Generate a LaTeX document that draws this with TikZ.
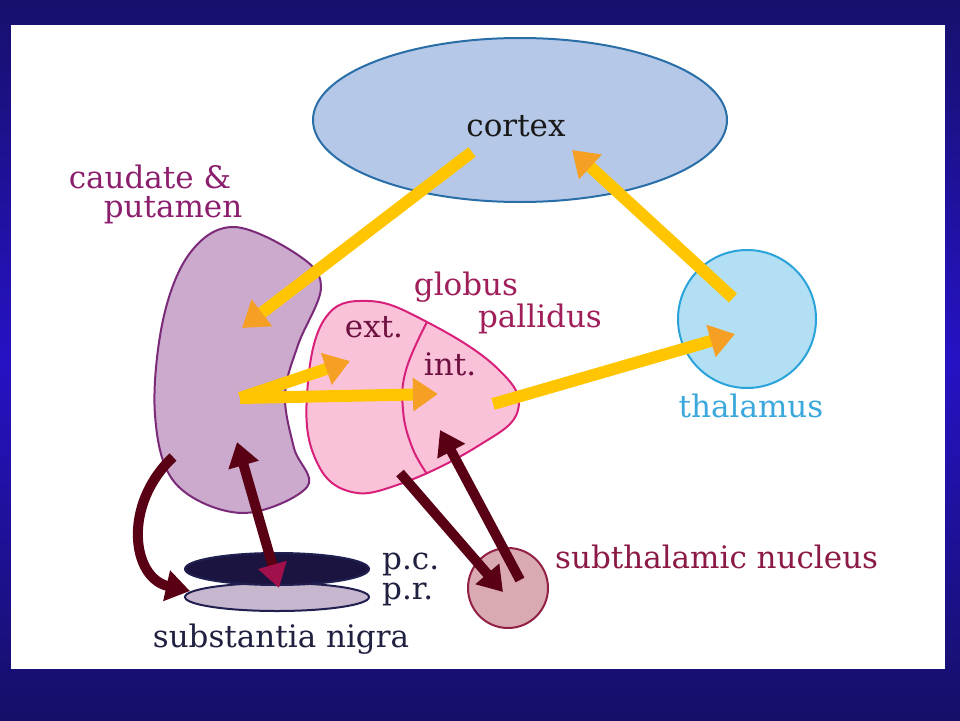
\documentclass[tikz,border=0pt]{standalone}
\usepackage{fontspec}
\setmainfont{DejaVu Serif}
\usetikzlibrary{arrows.meta,shapes.geometric}
\definecolor{bgtop}{HTML}{17106C}
\definecolor{bgmid}{HTML}{2612C4}
\definecolor{bgbot}{HTML}{160F68}
\definecolor{cortexfill}{HTML}{B6C8E8}
\definecolor{cortexline}{HTML}{2A6EA8}
\definecolor{caudfill}{HTML}{CBAACD}
\definecolor{caudline}{HTML}{7A2A78}
\definecolor{gpfill}{HTML}{F9C2D9}
\definecolor{gpline}{HTML}{D8207A}
\definecolor{thalfill}{HTML}{B2DFF3}
\definecolor{thalline}{HTML}{2AA2DA}
\definecolor{stnfill}{HTML}{D9AAB2}
\definecolor{stnline}{HTML}{922044}
\definecolor{yel}{HTML}{FFC500}
\definecolor{orh}{HTML}{F5A024}
\definecolor{darkarr}{HTML}{5A0014}
\definecolor{crimhead}{HTML}{A2104C}
\definecolor{pcfill}{HTML}{1C1440}
\definecolor{prfill}{HTML}{C6B6CE}
\definecolor{snline}{HTML}{202050}
\definecolor{caudtext}{HTML}{8C1E6E}
\definecolor{gptext}{HTML}{A01E5A}
\definecolor{inttext}{HTML}{6E1040}
\definecolor{thaltext}{HTML}{3AA8DC}
\definecolor{stntext}{HTML}{8C1A46}
\definecolor{sntext}{HTML}{202040}
\newcommand\lab{\fontsize{31}{34}\selectfont}
\tikzset{
  yarrow/.style={draw=yel, line width=12pt, -{Triangle[length=25pt,width=32pt,color=orh]}},
  darrow/.style={draw=darkarr, line width=10pt, -{Triangle[length=24pt,width=30pt,color=darkarr]}},
  lbl/.style={font=\lab, inner sep=0pt},
  region/.style={line width=2pt}
}
\begin{document}
\begin{tikzpicture}[x=1pt,y=-1pt]
\useasboundingbox (0,0) rectangle (960,720);
\shade[top color=bgtop, bottom color=bgbot, middle color=bgmid] (0,0) rectangle (960,720);
\fill[white] (11,25) rectangle (945,669);

% cortex
\node[ellipse, draw=cortexline, fill=cortexfill, region, minimum width=414pt, minimum height=164pt, inner sep=0pt] (cortex) at (520,120) {};
\node[lbl, text=black!90] (cortexlbl) at (516,126) {cortex};

% thalamus
\node[circle, draw=thalline, fill=thalfill, region, minimum size=138pt, inner sep=0pt] (thal) at (747,319) {};
\node[lbl, text=thaltext] (thallbl) at (751,406) {thalamus};

% caudate & putamen
\draw[caudline, fill=caudfill, region] plot[smooth cycle, tension=0.6] coordinates {
  (234,227) (298,255) (321,287) (298,345) (285,395) (294,448) (307,487)
  (242,513) (176,484) (155,415) (163,320) (190,253)};
\node[lbl, text=caudtext] (caudlbl1) at (150,177) {caudate \&};
\node[lbl, text=caudtext] (caudlbl2) at (173,210) {putamen};

% globus pallidus
\draw[gpline, fill=gpfill, region] plot[smooth cycle, tension=0.7] coordinates {
  (307,395) (324,320) (368,301) (427,322) (497,368) (518,410) (478,446)
  (400,484) (348,491) (315,458)};
\draw[gpline, region] plot[smooth, tension=0.7] coordinates {(427,322) (406,370) (403,410) (412,447) (427,474)};
\node[lbl, text=gptext] (gplbl1) at (466,287) {globus};
\node[lbl, text=gptext] (gplbl2) at (540,319) {pallidus};
\node[lbl, text=inttext] (extlbl) at (374,327) {ext.};
\node[lbl, text=inttext] (intlbl) at (450,364) {int.};

% subthalamic nucleus
\node[circle, draw=stnline, fill=stnfill, region, minimum size=80pt, inner sep=0pt] (stn) at (508,588) {};
\node[lbl, text=stntext, anchor=west] (stnlbl) at (555,557) {subthalamic nucleus};

% substantia nigra
\node[ellipse, draw=snline, fill=prfill, region, minimum width=184pt, minimum height=28pt, inner sep=0pt] (pr) at (277,597) {};
\node[ellipse, draw=snline, fill=pcfill, region, minimum width=184pt, minimum height=32pt, inner sep=0pt] (pc) at (277,569) {};
\node[lbl, text=sntext, anchor=west] (pclbl) at (382,564) {p.c.};
\node[lbl, text=sntext, anchor=west] (prlbl) at (382,594) {p.r.};
\node[lbl, text=sntext] (snlbl) at (281,639) {substantia nigra};

% connector end points
\coordinate (cxout) at (472,152);
\coordinate (cdin) at (242,328);
\coordinate (thout) at (733,298);
\coordinate (cxin) at (572,150);
\coordinate (cdout) at (240,398);
\coordinate (extin) at (350,361);
\coordinate (intin) at (438,394);
\coordinate (gpout) at (493,404);
\coordinate (thin) at (735,334);
\coordinate (cdout2) at (173,457);
\coordinate (snin) at (190,591);
\coordinate (cdin2) at (237,442);
\coordinate (pcin) at (279,588);
\coordinate (gpout2) at (400,473);
\coordinate (stnin) at (503,592);
\coordinate (stnout) at (520,580);
\coordinate (intin2) at (440,430);

% yellow pathways
\draw[yarrow] (cxout) -- (cdin);
\draw[yarrow] (thout) -- (cxin);
\draw[yarrow] (cdout) -- (extin);
\draw[yarrow] (cdout) -- (intin);
\draw[yarrow] (gpout) -- (thin);

% dark pathways
\draw[darrow] (cdout2) .. controls (122,505) and (132,578) .. (snin);
\draw[draw=darkarr, line width=10pt, {Triangle[length=24pt,width=30pt,color=darkarr]}-{Triangle[length=24pt,width=28pt,color=crimhead]}] (cdin2) -- (pcin);
\draw[darrow] (gpout2) -- (stnin);
\draw[darrow] (stnout) -- (intin2);
\end{tikzpicture}
\end{document}
